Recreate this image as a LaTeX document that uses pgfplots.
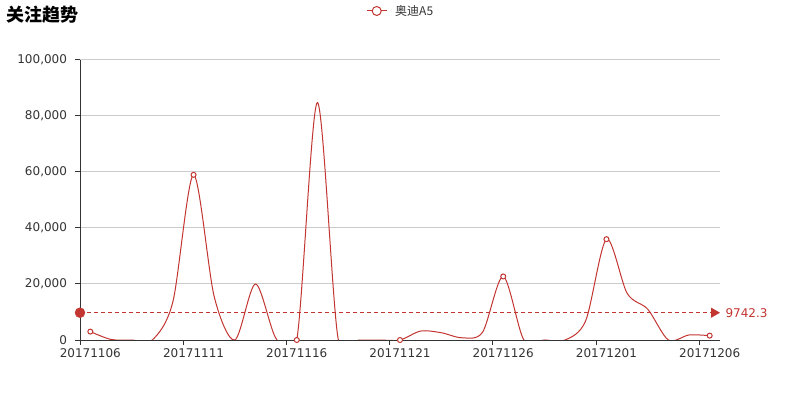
\documentclass[border=0pt]{standalone}
\usepackage{fontspec}
\setmainfont{DejaVu Sans}
\newfontfamily\cjk{Noto Sans CJK SC}
\usepackage{pgfplots}
\pgfplotsset{compat=1.18}
\usetikzlibrary{arrows.meta}
\definecolor{ered}{HTML}{C23531}
\definecolor{etext}{HTML}{333333}
\definecolor{egrid}{HTML}{CCCCCC}
\begin{document}
\begin{tikzpicture}
\path[use as bounding box] (0,0) rectangle (800bp,400bp);
\node[anchor=west, inner sep=0pt, text=black] at (6bp,385bp) {\fontsize{18bp}{20bp}\selectfont\cjk\bfseries 关注趋势};
\begin{axis}[
  at={(80bp,60bp)}, anchor=south west,
  scale only axis, width=640bp, height=280bp,
  xmin=-0.5, xmax=30.5, ymin=0, ymax=100000,
  axis x line*=bottom, axis y line*=left,
  axis line style={etext, line width=1bp, -},
  ytick={0,20000,40000,60000,80000,100000},
  ymajorgrids, major grid style={egrid, line width=1bp},
  xtick={-0.5,4.5,9.5,14.5,19.5,24.5,29.5},
  xticklabels={20171106,20171111,20171116,20171121,20171126,20171201,20171206},
  xticklabel style={xshift=10.32bp},
  tick align=outside,
  major tick length=5bp,
  tick style={etext, line width=1bp},
  ticklabel style={font=\fontsize{12bp}{14bp}\selectfont, text=etext},
  scaled y ticks=false,
  yticklabel style={xshift=-4.5bp, /pgf/number format/.cd, fixed, 1000 sep={,}, assume math mode=true},
  xticklabel style={/pgf/number format/assume math mode=true},
  legend style={at={(0.4469,1.175)}, anchor=west, draw=none, fill=none, inner sep=0pt,
    font=\fontsize{12bp}{14bp}\selectfont, text=etext,
    /tikz/every odd column/.append style={column sep=6bp}},
  legend cell align=left,
]
\addplot[ered, line width=1bp, smooth, tension=0.5,
  mark=*, mark repeat=5, mark size=2.5bp,
  mark options={fill=white, draw=ered, line width=1bp},
  legend image code/.code={
    \draw[ered, line width=1bp] (0bp,0bp)--(20bp,0bp);
    \draw[ered, fill=white, line width=1bp] (10bp,0bp) circle (4.5bp);
  }] coordinates {
(0,3000) (1,200) (2,0) (3,0) (4,13700) (5,59000) (6,15500) (7,0) (8,20000) (9,500)
(10,0) (11,84800) (12,600) (13,0) (14,0) (15,0) (16,3200) (17,2600) (18,800) (19,2800)
(20,22700) (21,0) (22,0) (23,0) (24,7000) (25,36000) (26,16700) (27,11000) (28,0) (29,1800)
(30,1550)
};
\addlegendentry{\cjk 奥迪A5}
\end{axis}
\begin{axis}[
  at={(80bp,60bp)}, anchor=south west,
  scale only axis, width=640bp, height=280bp,
  xmin=-0.5, xmax=30.5, ymin=0, ymax=100000,
  hide axis, clip=false,
]
\addplot[ered, line width=1bp, dash pattern=on 4bp off 3bp,
  -{Triangle[length=9bp, width=10bp]}] coordinates {(-0.5,9742.3) (30.5,9742.3)}
  node[pos=1, anchor=west, text=ered, inner sep=0pt, xshift=5bp,
       font=\fontsize{12bp}{14bp}\selectfont] {9742.3};
\addplot[only marks, mark=*, mark size=5bp, ered, mark options={fill=ered, draw=ered}]
  coordinates {(-0.5,9742.3)};
\end{axis}
\end{tikzpicture}
\end{document}
